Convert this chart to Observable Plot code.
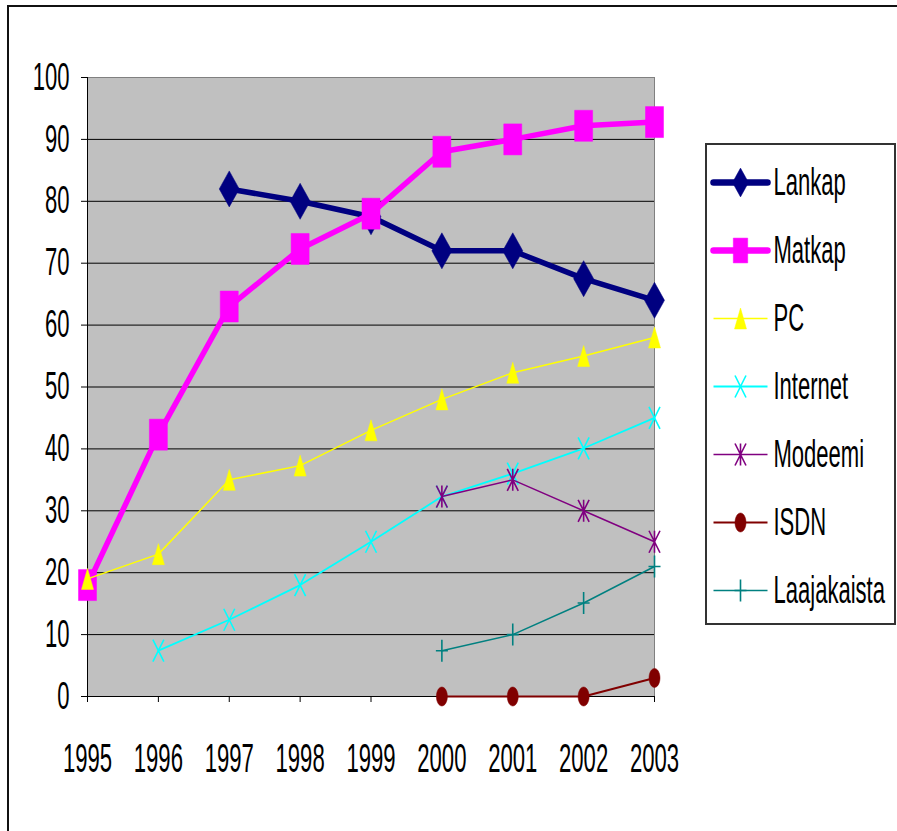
<!DOCTYPE html>
<html>
<head>
<meta charset="utf-8">
<script src="https://cdn.jsdelivr.net/npm/d3@7"></script>
<script src="https://cdn.jsdelivr.net/npm/@observablehq/plot@0.6"></script>
<style>
  body { margin: 0; background: #fff; }
  #wrap { position: relative; width: 897px; height: 831px; overflow: hidden; background: #fff; }
  #chart { position: absolute; left: 0; top: 0; }
  #legend { position: absolute; left: 705px; top: 143px; width: 187px; height: 478px; border: 2px solid #333; background: #fff; }
  #frame { position: absolute; left: 7px; top: 5px; width: 1000px; height: 1000px; border: 2px solid #111; pointer-events: none; }
</style>
</head>
<body>
<div id="wrap">
  <div id="chart"></div>
  <div id="legend"></div>
  <div id="frame"></div>
</div>
<script>
// ---- data ----
const years = [1995, 1996, 1997, 1998, 1999, 2000, 2001, 2002, 2003];
const yTicks = [0, 10, 20, 30, 40, 50, 60, 70, 80, 90, 100];
const gridValues = [10, 20, 30, 40, 50, 60, 70, 80, 90];
const seriesNames = ["Lankap", "Matkap", "PC", "Internet", "Modeemi", "ISDN", "Laajakaista"];
const lankap      = [null, null, 82, 80, 77.5, 72, 72, 67.5, 64];
const matkap      = [18, 42.3, 63, 72.3, 78, 88, 90, 92.2, 92.8];
const pc          = [19, 23, 35, 37.3, 43, 48, 52.3, 55, 58];
const internet    = [null, 7.4, 12.4, 18, 25, 32.3, 36, 40.1, 45];
const modeemi     = [null, null, null, null, null, 32.3, 35, 30, 25];
const isdn        = [null, null, null, null, null, 0, 0, 0, 3];
const laajakaista = [null, null, null, null, null, 7.4, 10, 15.1, 21];

// ---- custom marker symbols ----
function mk(fn) { return { draw(ctx, size) { const s = Math.sqrt(size / Math.PI) / 10; fn(ctx, s); } }; }
const symDiamond = mk((c, s) => { c.moveTo(0, -18 * s); c.lineTo(10 * s, 0); c.lineTo(0, 18 * s); c.lineTo(-10 * s, 0); c.closePath(); });
const symSquare = mk((c, s) => { c.moveTo(-9 * s, -15.5 * s); c.lineTo(9 * s, -15.5 * s); c.lineTo(9 * s, 15.5 * s); c.lineTo(-9 * s, 15.5 * s); c.closePath(); });
const symTriangle = mk((c, s) => { c.moveTo(0, -10.5 * s); c.lineTo(6 * s, 10.5 * s); c.lineTo(-6 * s, 10.5 * s); c.closePath(); });
const symX = mk((c, s) => { c.moveTo(-5.5 * s, -11 * s); c.lineTo(5.5 * s, 11 * s); c.moveTo(5.5 * s, -11 * s); c.lineTo(-5.5 * s, 11 * s); });
const symAst = mk((c, s) => { c.moveTo(-5.5 * s, -11 * s); c.lineTo(5.5 * s, 11 * s); c.moveTo(5.5 * s, -11 * s); c.lineTo(-5.5 * s, 11 * s); c.moveTo(0, -11 * s); c.lineTo(0, 11 * s); });
const symEllipse = mk((c, s) => {
  const rx = 5.5 * s, ry = 9.5 * s, k = 0.5523;
  c.moveTo(0, -ry);
  c.bezierCurveTo(k * rx, -ry, rx, -k * ry, rx, 0);
  c.bezierCurveTo(rx, k * ry, k * rx, ry, 0, ry);
  c.bezierCurveTo(-k * rx, ry, -rx, k * ry, -rx, 0);
  c.bezierCurveTo(-rx, -k * ry, -k * rx, -ry, 0, -ry);
  c.closePath();
});
const symPlus = mk((c, s) => { c.moveTo(-6 * s, 0); c.lineTo(6 * s, 0); c.moveTo(0, -11 * s); c.lineTo(0, 11 * s); });

// ---- styles per series ----
const styles = [
  { name: "Lankap", values: lankap, color: "#000080", width: 5.5, symbol: symDiamond, filled: true, r: 10, lr: 8 },
  { name: "Matkap", values: matkap, color: "#ff00ff", width: 5.5, symbol: symSquare, filled: true, r: 10, lr: 8 },
  { name: "PC", values: pc, color: "#ffff00", width: 1.5, symbol: symTriangle, filled: true, r: 10, lr: 10 },
  { name: "Internet", values: internet, color: "#00ffff", width: 1.8, symbol: symX, filled: false, r: 10, lr: 10 },
  { name: "Modeemi", values: modeemi, color: "#800080", width: 1.5, symbol: symAst, filled: false, r: 10, lr: 10 },
  { name: "ISDN", values: isdn, color: "#800000", width: 2, symbol: symEllipse, filled: true, r: 10, lr: 10 },
  { name: "Laajakaista", values: laajakaista, color: "#008080", width: 1.5, symbol: symPlus, filled: false, r: 10, lr: 10 }
];

const FONT = "'Liberation Sans', Arial, Helvetica, sans-serif";

// ---- main chart ----
const marks = [
  Plot.frame({ fill: "#c0c0c0", stroke: "#808080" }),
  Plot.ruleY(gridValues, { stroke: "#000", strokeWidth: 1 }),
  Plot.ruleY([0], { stroke: "#000", strokeWidth: 1 }),
  Plot.ruleX([years[0]], { stroke: "#000", strokeWidth: 1 }),
  Plot.axisY({ ticks: yTicks, tickSize: 6, tickPadding: 12, fontSize: 38, tickFormat: d => String(d), label: null }),
  Plot.axisX({ ticks: years, tickSize: 6, tickPadding: 40, fontSize: 41, tickFormat: d => String(d), label: null })
];
for (const st of styles) {
  const rows = years.map((yr, i) => ({ year: yr, value: st.values[i] })).filter(d => d.value != null);
  marks.push(Plot.line(rows, { x: "year", y: "value", stroke: st.color, strokeWidth: st.width, strokeLinejoin: "round" }));
  marks.push(Plot.dot(rows, {
    x: "year", y: "value", symbol: st.symbol, r: st.r,
    fill: st.filled ? st.color : "none",
    stroke: st.color,
    strokeWidth: st.filled ? 0.5 : 1.6
  }));
}

const chart = Plot.plot({
  width: 897,
  height: 831,
  marginLeft: 87,
  marginRight: 243,
  marginTop: 77,
  marginBottom: 135,
  x: { domain: [years[0], years[years.length - 1]] },
  y: { domain: [0, 100] },
  style: { background: "transparent", fontFamily: FONT, color: "#000", overflow: "visible" },
  marks
});
document.getElementById("chart").appendChild(chart);

// ---- legend ----
const lmarks = [];
for (const st of styles) {
  lmarks.push(Plot.link([st.name], { x1: () => 0, x2: () => 1, y1: d => d, y2: d => d, stroke: st.color, strokeWidth: st.width > 3 ? 6.5 : st.width, strokeLinecap: st.width > 3 ? "round" : "butt" }));
  lmarks.push(Plot.dot([st.name], { x: () => 0.5, y: d => d, symbol: st.symbol, r: st.lr, fill: st.filled ? st.color : "none", stroke: st.color, strokeWidth: st.filled ? 0.5 : 1.6 }));
  lmarks.push(Plot.text([st.name], { x: () => 1, y: d => d, text: d => d, dx: 6, textAnchor: "start", fontSize: 38, fill: "#000" }));
}
const legend = Plot.plot({
  width: 187,
  height: 478,
  margin: 0,
  x: { domain: [0, 1], range: [6, 60], axis: null },
  y: { type: "point", domain: seriesNames, range: [35.7, 446.7], padding: 0, axis: null },
  style: { background: "transparent", fontFamily: FONT, color: "#000", overflow: "visible" },
  marks: lmarks
});
document.getElementById("legend").appendChild(legend);

// ---- condense text horizontally (narrow face look) ----
for (const svg of [chart, legend]) {
  svg.querySelectorAll("text").forEach(el => {
    const inX = el.closest('[aria-label="x-axis tick label"]');
    const k = inX ? 0.54 : 0.58;
    const t = el.getAttribute("transform") || "";
    el.setAttribute("transform", (t + ` scale(${k},1)`).trim());
  });
}
</script>
</body>
</html>
